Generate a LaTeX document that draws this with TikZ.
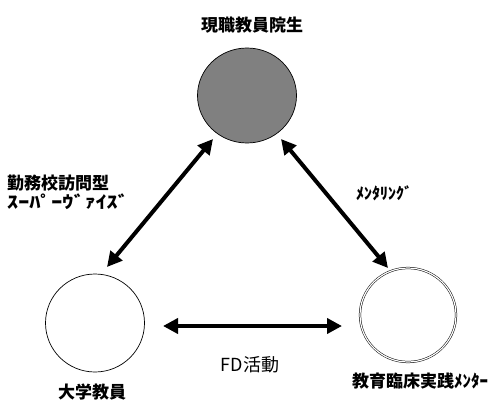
\documentclass[tikz,border=0pt]{standalone}
\usepackage{fontspec}
\newfontfamily\jp{Noto Sans CJK JP}
\usetikzlibrary{arrows.meta,shapes.geometric}
\begin{document}
\begin{tikzpicture}[x=1pt,y=-1pt,
  circ/.style={draw=black,line width=0.7pt,minimum width=99pt,minimum height=95pt,ellipse, inner sep=0pt},
  lbl/.style={font=\jp\bfseries\fontsize{17}{19}\selectfont},
  hlbl/.style={font=\jp\bfseries\fontsize{16}{18}\selectfont},
  dbl/.style={line width=4pt,{Triangle[length=15pt,width=15pt]}-{Triangle[length=15pt,width=15pt]}}]
\useasboundingbox (0,0) rectangle (502,401);
\node[circ,fill={rgb,255:red,128;green,128;blue,128}] (top) at (247,95.5) {};
\node[circ,minimum height=98pt] (left) at (95,323) {};
\node[circ,double,double distance=1.2pt,line width=0.5pt,minimum width=96pt,minimum height=94pt] (right) at (408,315) {};
\node[lbl] (ttop) at (252,25) {現職教員院生};
\node[lbl,inner sep=0pt] (tleft) at (92,392) {大学教員};
\node[lbl] (tright) at (420,381) {教育臨床実践ﾒﾝﾀｰ};
\node[lbl,align=left] (tsv) at (68,192) {勤務校訪問型\\\scalebox{1.3}[1]{ｽｰﾊﾟｰｳﾞｧｲｽﾞ}};
\node[hlbl] (tmen) at (384,193) {ﾒﾝﾀﾘﾝｸﾞ};
\node[font=\jp\fontsize{18}{20}\selectfont] (tfd) at (250,365) {FD活動};
\coordinate (a1) at (213,139);
\coordinate (a2) at (107,267);
\coordinate (b1) at (281,139);
\coordinate (b2) at (388,268);
\coordinate (c1) at (163,326);
\coordinate (c2) at (342,326);
\draw[dbl] (a1) -- (a2);
\draw[dbl] (b1) -- (b2);
\draw[dbl] (c1) -- (c2);
\end{tikzpicture}
\end{document}
